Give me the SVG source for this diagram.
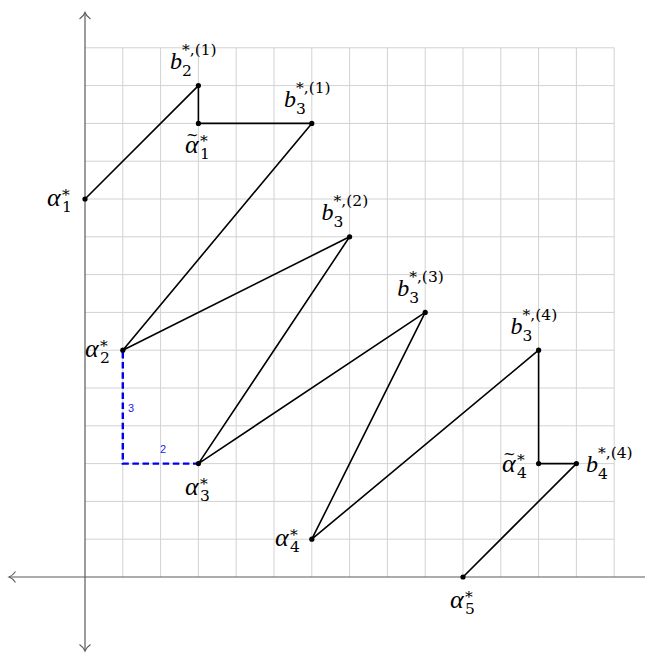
<svg xmlns="http://www.w3.org/2000/svg" width="645" height="653" viewBox="0 0 645 653">
<style>
.grid line{stroke:#d2d2d2;stroke-width:1}
.axis{stroke:#5a5a5a;stroke-width:1.2;fill:none}
.path{stroke:#000;stroke-width:1.6;fill:none;stroke-linejoin:round}
.dash{stroke:#0000ee;stroke-width:2.4;fill:none;stroke-dasharray:6.5 3.6}
.dot{fill:#000}
text{font-family:"DejaVu Serif",serif;fill:#000}
.a{font-size:26px;font-style:italic;font-family:"Liberation Serif","Times New Roman",serif}
.b{font-size:24px;font-style:italic;font-family:"Liberation Serif","Times New Roman",serif}
.s{font-size:15.5px}
.t{font-size:15px}
.bl{font-size:11px;fill:#2222ee;font-family:"Liberation Sans",Arial,sans-serif}
</style>
<defs>
<marker id="ah" markerUnits="userSpaceOnUse" viewBox="-8 -7 10 14" refX="0" refY="0" markerWidth="10" markerHeight="14" orient="auto-start-reverse">
<path d="M-6.5,-5.5 C-4,-2 -1.5,-0.5 0,0 C-1.5,0.5 -4,2 -6.5,5.5" fill="none" stroke="#5a5a5a" stroke-width="1.1"/>
</marker>
</defs>
<g class="grid">
<line x1="85" y1="47.8" x2="614.2" y2="47.8"/>
<line x1="85" y1="85.6" x2="614.2" y2="85.6"/>
<line x1="85" y1="123.4" x2="614.2" y2="123.4"/>
<line x1="85" y1="161.2" x2="614.2" y2="161.2"/>
<line x1="85" y1="199" x2="614.2" y2="199"/>
<line x1="85" y1="236.8" x2="614.2" y2="236.8"/>
<line x1="85" y1="274.6" x2="614.2" y2="274.6"/>
<line x1="85" y1="312.4" x2="614.2" y2="312.4"/>
<line x1="85" y1="350.2" x2="614.2" y2="350.2"/>
<line x1="85" y1="388" x2="614.2" y2="388"/>
<line x1="85" y1="425.8" x2="614.2" y2="425.8"/>
<line x1="85" y1="463.6" x2="614.2" y2="463.6"/>
<line x1="85" y1="501.4" x2="614.2" y2="501.4"/>
<line x1="85" y1="539.2" x2="614.2" y2="539.2"/>
<line x1="122.8" y1="47.8" x2="122.8" y2="577"/>
<line x1="160.6" y1="47.8" x2="160.6" y2="577"/>
<line x1="198.4" y1="47.8" x2="198.4" y2="577"/>
<line x1="236.2" y1="47.8" x2="236.2" y2="577"/>
<line x1="274" y1="47.8" x2="274" y2="577"/>
<line x1="311.8" y1="47.8" x2="311.8" y2="577"/>
<line x1="349.6" y1="47.8" x2="349.6" y2="577"/>
<line x1="387.4" y1="47.8" x2="387.4" y2="577"/>
<line x1="425.2" y1="47.8" x2="425.2" y2="577"/>
<line x1="463" y1="47.8" x2="463" y2="577"/>
<line x1="500.8" y1="47.8" x2="500.8" y2="577"/>
<line x1="538.6" y1="47.8" x2="538.6" y2="577"/>
<line x1="576.4" y1="47.8" x2="576.4" y2="577"/>
<line x1="614.2" y1="47.8" x2="614.2" y2="577"/>
</g>
<g id="axes">
<line class="axis" x1="9" y1="577" x2="655" y2="577" marker-start="url(#ah)" marker-end="url(#ah)"/>
<line class="axis" x1="85" y1="12.5" x2="85" y2="651" marker-start="url(#ah)" marker-end="url(#ah)"/>
</g>
<g id="connectors">
<path class="dash" d="M122.8,352 V463.6 H196"/>
<polyline class="path" points="85,199 198.4,85.6 198.4,123.4 311.8,123.4 122.8,350.2 349.6,236.8 198.4,463.6 425.2,312.4 311.8,539.2 538.6,350.2 538.6,463.6 576.4,463.6 463,577"/>
<text class="bl" x="128" y="412">3</text>
<text class="bl" x="160" y="453">2</text>
</g>
<g id="alpha1"><circle class="dot" cx="85" cy="199" r="2.6"/>
<text class="a" x="47" y="206">α</text><text class="s" x="62" y="200">*</text><text class="s" x="62" y="212">1</text></g>
<g id="b2_1"><circle class="dot" cx="198.4" cy="85.6" r="2.6"/>
<text class="b" x="170" y="69">b</text><text class="s" x="182" y="55">*,(1)</text><text class="s" x="182" y="76">2</text></g>
<g id="alpha1t"><circle class="dot" cx="198.4" cy="123.4" r="2.6"/>
<text class="t" x="186" y="140">~</text>
<text class="a" x="185" y="153">α</text><text class="s" x="200" y="146">*</text><text class="s" x="200" y="159">1</text></g>
<g id="b3_1"><circle class="dot" cx="311.8" cy="123.4" r="2.6"/>
<text class="b" x="284" y="107">b</text><text class="s" x="296" y="93">*,(1)</text><text class="s" x="296" y="114">3</text></g>
<g id="alpha2"><circle class="dot" cx="122.8" cy="350.2" r="2.6"/>
<text class="a" x="85" y="357">α</text><text class="s" x="100" y="351">*</text><text class="s" x="100" y="363">2</text></g>
<g id="b3_2"><circle class="dot" cx="349.6" cy="236.8" r="2.6"/>
<text class="b" x="321.6" y="220">b</text><text class="s" x="333.6" y="206">*,(2)</text><text class="s" x="333.6" y="227">3</text></g>
<g id="alpha3"><circle class="dot" cx="198.4" cy="463.6" r="2.6"/>
<text class="a" x="185" y="495">α</text><text class="s" x="200" y="489">*</text><text class="s" x="200" y="501">3</text></g>
<g id="b3_3"><circle class="dot" cx="425.2" cy="312.4" r="2.6"/>
<text class="b" x="397.2" y="296">b</text><text class="s" x="409.2" y="282">*,(3)</text><text class="s" x="409.2" y="303">3</text></g>
<g id="alpha4"><circle class="dot" cx="311.8" cy="539.2" r="2.6"/>
<text class="a" x="275" y="546">α</text><text class="s" x="290" y="540">*</text><text class="s" x="290" y="552">4</text></g>
<g id="b3_4"><circle class="dot" cx="538.6" cy="350.2" r="2.6"/>
<text class="b" x="510.6" y="334">b</text><text class="s" x="522.6" y="320">*,(4)</text><text class="s" x="522.6" y="341">3</text></g>
<g id="alpha4t"><circle class="dot" cx="538.6" cy="463.6" r="2.6"/>
<text class="t" x="503" y="459">~</text>
<text class="a" x="502" y="472">α</text><text class="s" x="517" y="465">*</text><text class="s" x="517" y="478">4</text></g>
<g id="b4_4"><circle class="dot" cx="576.4" cy="463.6" r="2.6"/>
<text class="b" x="586" y="472">b</text><text class="s" x="598" y="458">*,(4)</text><text class="s" x="598" y="479">4</text></g>
<g id="alpha5"><circle class="dot" cx="463" cy="577" r="2.6"/>
<text class="a" x="450" y="608">α</text><text class="s" x="465" y="602">*</text><text class="s" x="465" y="614">5</text></g>
</svg>
